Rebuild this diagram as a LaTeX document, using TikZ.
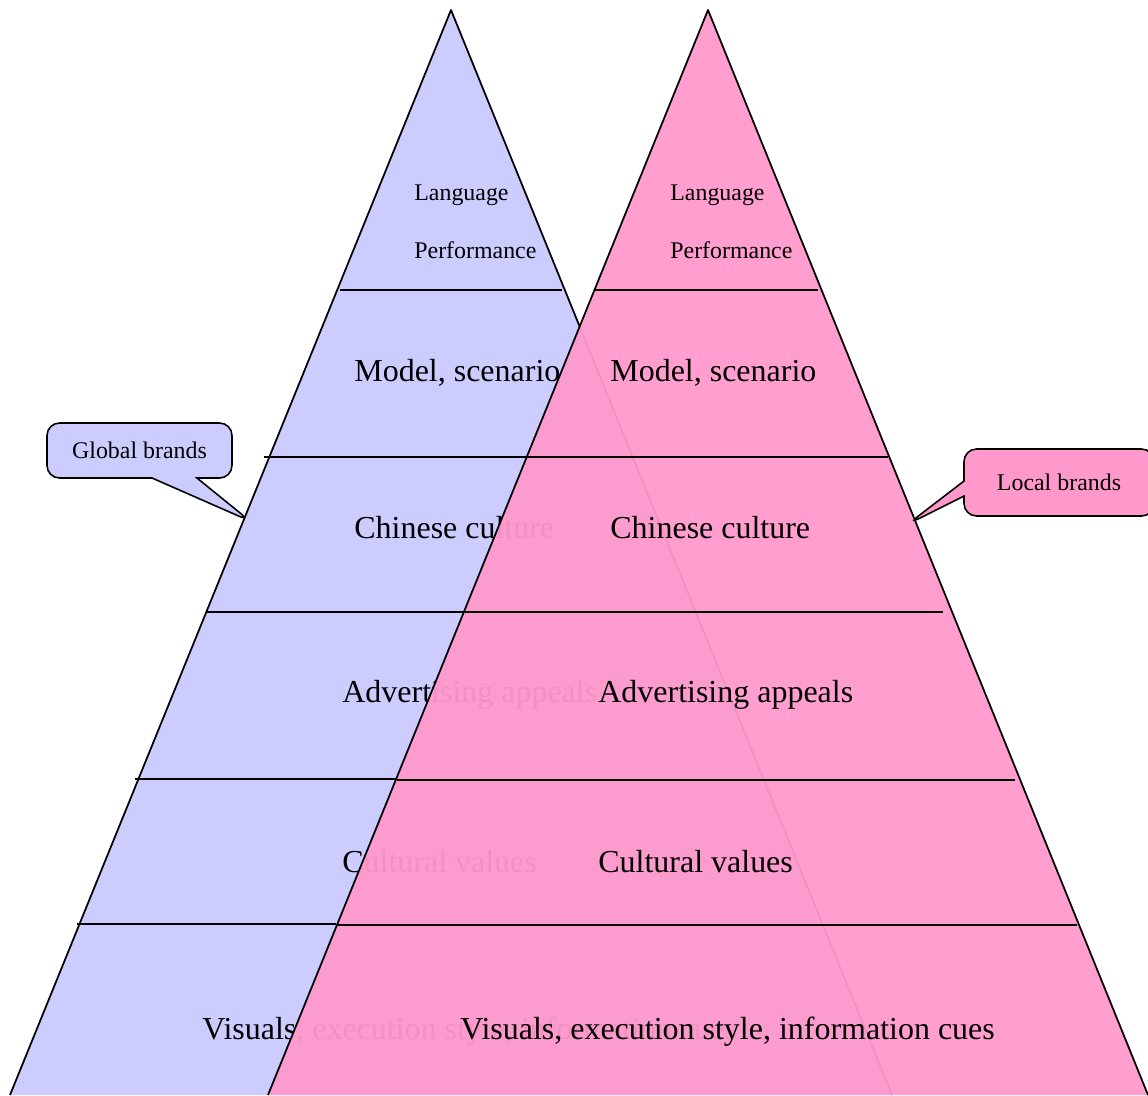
\documentclass[tikz,border=0pt]{standalone}
\usepackage{fontspec}
\setmainfont{Liberation Serif}
\usetikzlibrary{shapes.callouts}
\definecolor{globalblue}{HTML}{CCCCFF}
\definecolor{localpink}{HTML}{FF99CC}
\begin{document}
\begin{tikzpicture}[x=0.02cm, y=-0.02cm,
  big/.style={anchor=west, font=\fontsize{18.2}{20}\selectfont, inner sep=0pt},
  small/.style={anchor=west, font=\fontsize{13.6}{16}\selectfont, inner sep=0pt},
  level/.style={line width=0.8pt},
  bubble/.style={rectangle callout, draw, line width=0.9pt, rounded corners=0.25cm,
    font=\fontsize{13.6}{16}\selectfont, inner sep=0pt}]
\useasboundingbox (0,0) rectangle (1148,1095);
\coordinate (GT) at (451,10);
\coordinate (GL) at (10,1095);
\coordinate (GR) at (892,1095);
\coordinate (LT) at (708,10);
\coordinate (LL) at (268,1095);
\coordinate (LR) at (1148,1095);
\coordinate (gtip) at (250,521);
\coordinate (ltip) at (908,524);
% global brands
\draw[fill=globalblue, line width=1pt, line join=round] (GL) -- (GT) -- (GR);
\foreach \y/\a/\b in {290/340/562, 457/264/527, 612/207/465, 779/135/397, 924/77/336}
  \draw[level] (\a,\y) -- (\b,\y);
\node[small] (g1) at (414,195) {Language};
\node[small] (g2) at (414,250) {Performance};
\node[big] (g3) at (354,373) {Model, scenario};
\node[big] (g4) at (354,528) {Chinese culture};
\node[big] (g5) at (342,695) {Advertising appeals};
\node[big] (g6) at (342,862) {Cultural values};
\node[big] (g7) at (202,1032) {Visuals, execution style, information cues};
% local brands
\draw[fill=localpink, fill opacity=0.95, line width=1pt, line join=round] (LL) -- (LT) -- (LR);
\foreach \y/\a/\b in {290/595/818, 457/527/888, 612/465/943, 780/397/1015, 925/336/1077}
  \draw[level] (\a,\y) -- (\b,\y);
\node[small] (l1) at (670,195) {Language};
\node[small] (l2) at (670,250) {Performance};
\node[big] (l3) at (610,373) {Model, scenario};
\node[big] (l4) at (610,528) {Chinese culture};
\node[big] (l5) at (598,695) {Advertising appeals};
\node[big] (l6) at (598,862) {Cultural values};
\node[big] (l7) at (460,1032) {Visuals, execution style, information cues};
% callouts
\node[bubble, fill=globalblue, minimum width=3.7cm, minimum height=1.1cm,
  callout absolute pointer={(gtip)}, callout pointer width=0.9cm] (gb) at (139.5,450.5) {Global brands};
\node[bubble, fill=localpink, minimum width=3.8cm, minimum height=1.34cm,
  callout absolute pointer={(ltip)}, callout pointer width=0.3cm] (lb) at (1059,482.5) {Local brands};
\end{tikzpicture}
\end{document}
